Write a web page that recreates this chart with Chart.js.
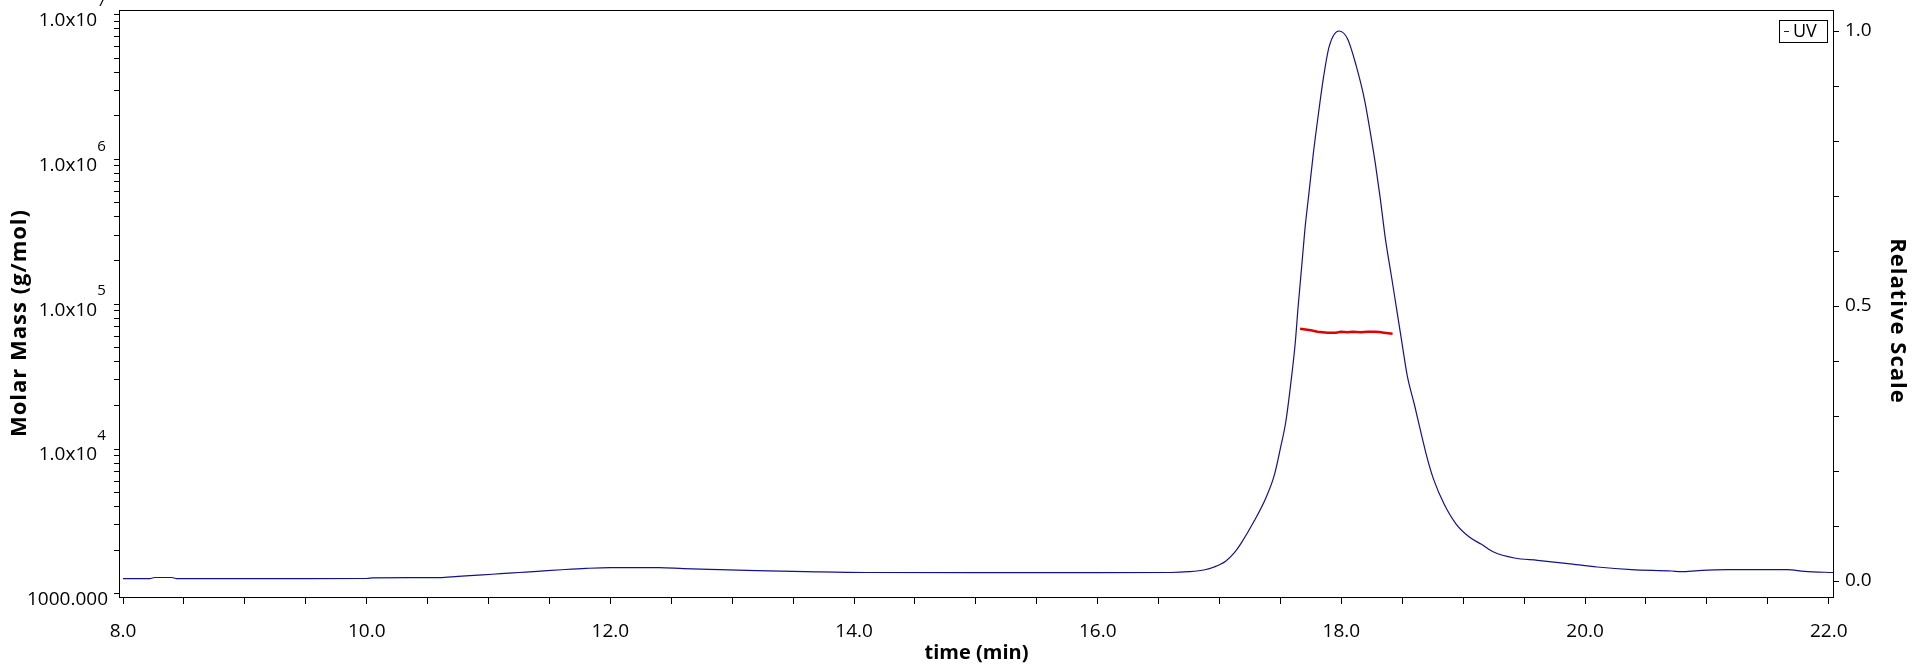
<!DOCTYPE html>
<html>
<head>
<meta charset="utf-8">
<script src="https://cdn.jsdelivr.net/npm/chart.js@4.4.1/dist/chart.umd.min.js"></script>
<style>
  html, body { margin: 0; padding: 0; background: #fff; }
</style>
</head>
<body>
<canvas id="chart" width="1920" height="672"></canvas>
<script>
// UV trace (relative scale, right axis)
const uvTime = [8.0, 8.22, 8.26, 8.4, 8.44, 9.0, 9.5, 10.0, 10.05, 10.6, 10.75, 10.95, 11.1, 11.25, 11.4,
  11.6, 11.8, 12.0, 12.4, 12.6, 12.9, 13.2, 13.6, 14.1, 15.0, 16.0, 16.6, 16.75, 16.88, 16.95, 17.05,
  17.12, 17.175, 17.284, 17.38, 17.45, 17.5, 17.544, 17.585, 17.62, 17.645, 17.673, 17.7, 17.735,
  17.77, 17.81, 17.854, 17.9, 17.98, 18.05, 18.12, 18.19, 18.24, 18.28, 18.32, 18.36, 18.41, 18.45,
  18.49, 18.54, 18.6, 18.655, 18.71, 18.76, 18.845, 18.94, 19.05, 19.15, 19.25, 19.42, 19.61, 19.86,
  20.1, 20.38, 20.71, 20.79, 20.93, 21.17, 21.66, 21.8, 22.05];
const uvValue = [0.0044, 0.0044, 0.0064, 0.0064, 0.0044, 0.0044, 0.0044, 0.0046, 0.0058, 0.0062, 0.0085,
  0.011, 0.0134, 0.0155, 0.0176, 0.0205, 0.023, 0.0244, 0.0244, 0.0225, 0.0207, 0.019, 0.0172, 0.0155,
  0.0153, 0.0153, 0.0155, 0.017, 0.0205, 0.025, 0.036, 0.051, 0.068, 0.109, 0.151, 0.193, 0.242, 0.29,
  0.36, 0.43, 0.499, 0.569, 0.638, 0.708, 0.778, 0.847, 0.917, 0.972, 1.0, 0.986, 0.938, 0.875, 0.812,
  0.757, 0.694, 0.624, 0.555, 0.499, 0.443, 0.374, 0.32, 0.268, 0.219, 0.183, 0.139, 0.104, 0.08,
  0.0667, 0.0527, 0.0418, 0.0376, 0.0316, 0.0255, 0.0207, 0.0182, 0.017, 0.019, 0.0207, 0.0207,
  0.0176, 0.0153];

// molar mass across the peak (left log axis)
const mwTime = [17.661, 17.749, 17.804, 17.886, 17.955, 17.996, 18.05, 18.09, 18.16, 18.215, 18.27,
  18.31, 18.35, 18.42];
const mwValue = [67800, 66030, 64640, 63620, 63620, 64640, 63960, 64640, 63960, 64640, 64640, 64300,
  63620, 62610];

const timeTickLabels = ["8.0", "10.0", "12.0", "14.0", "16.0", "18.0", "20.0", "22.0"];
const relTickLabels = ["0.0", "0.5", "1.0"];
const massTickValues = [1e3, 1e4, 1e5, 1e6, 1e7];
const massTickLabels = ["1000.000", "1.0x10", "1.0x10", "1.0x10", "1.0x10"];
const massTickExponents = ["", "4", "5", "6", "7"];

const timeTitle = "time (min)";
const massTitle = "Molar Mass (g/mol)";
const relTitle = "Relative Scale";

Chart.defaults.font.family = "'Open Sans', sans-serif";
Chart.defaults.color = "#000";

const tickGrid = {
  drawOnChartArea: false,
  drawTicks: true,
  tickLength: 6,
  tickColor: "#000",
  tickWidth: 1
};

const framePlugin = {
  id: "frame",
  afterDatasetsDraw(c) {
    const a = c.chartArea;
    const g = c.ctx;
    g.save();
    g.strokeStyle = "#000";
    g.lineWidth = 1;
    g.strokeRect(Math.round(a.left) - 0.5, Math.round(a.top) - 0.5,
      Math.round(a.right - a.left) + 1, Math.round(a.bottom - a.top));
    g.restore();
  }
};

const textPlugin = {
  id: "texts",
  afterDraw(c) {
    const a = c.chartArea;
    const g = c.ctx;
    g.save();
    g.fillStyle = "#000";

    // exponents of the log axis labels
    const s = c.scales.y;
    g.font = "19px 'Open Sans'";
    const fs = g.measureText("\u2007").width;
    const right = s.right - 6 - 6;
    g.font = "15px 'Open Sans'";
    g.textAlign = "left";
    g.textBaseline = "middle";
    massTickValues.forEach((v, i) => {
      if (!massTickExponents[i]) return;
      const y = s.getPixelForValue(v);
      g.fillText(massTickExponents[i], right - fs, y - 13);
    });

    // axis titles
    g.textAlign = "center";
    g.font = "bold 20px 'Open Sans'";
    g.fillText(timeTitle, (a.left + a.right) / 2, 653);

    g.font = "bold 22px 'Open Sans'";
    g.letterSpacing = "1px";
    g.save();
    g.translate(20, 323);
    g.rotate(-Math.PI / 2);
    g.fillText(massTitle, 0, 0);
    g.restore();

    g.save();
    g.translate(c.width - 23, 321);
    g.rotate(Math.PI / 2);
    g.fillText(relTitle, 0, 0);
    g.restore();
    g.letterSpacing = "0px";

    // legend box
    const ds = c.data.datasets[1];
    const bw = 48, bh = 22;
    const bx = Math.round(a.right) - 6 - bw;
    const by = Math.round(a.top) + 9;
    g.strokeStyle = "#000";
    g.lineWidth = 1;
    g.strokeRect(bx + 0.5, by + 0.5, bw, bh);
    g.strokeStyle = ds.borderColor;
    g.beginPath();
    g.moveTo(bx + 5, by + bh / 2 + 0.5);
    g.lineTo(bx + 10, by + bh / 2 + 0.5);
    g.stroke();
    g.font = "18px 'Open Sans'";
    g.textAlign = "left";
    g.fillText(ds.label, bx + 14, by + bh / 2 + 1);

    g.restore();
  }
};

const chart = new Chart(document.getElementById("chart"), {
  type: "line",
  data: {
    datasets: [
      {
        label: "Molar Mass",
        data: mwTime.map((t, i) => ({ x: t, y: mwValue[i] })),
        yAxisID: "y",
        borderColor: "#e00000",
        borderWidth: 2.5,
        pointRadius: 0,
        tension: 0,
        order: 0
      },
      {
        label: "UV",
        data: uvTime.map((t, i) => ({ x: t, y: uvValue[i] })),
        yAxisID: "y2",
        borderColor: "#12128c",
        borderWidth: 1.2,
        pointRadius: 0,
        cubicInterpolationMode: "monotone",
        order: 1
      }
    ]
  },
  options: {
    responsive: false,
    animation: false,
    devicePixelRatio: 1,
    layout: { padding: { top: 11, left: 0, right: 0, bottom: 0 } },
    plugins: {
      legend: { display: false },
      tooltip: { enabled: false }
    },
    scales: {
      x: {
        type: "linear",
        min: 7.975,
        max: 22.035,
        border: { display: false },
        grid: tickGrid,
        ticks: {
          stepSize: 0.5,
          includeBounds: false,
          autoSkip: false,
          maxRotation: 0,
          padding: 16,
          font: { size: 19 },
          callback: (v) => {
            const s = Number(v).toFixed(1);
            return timeTickLabels.includes(s) ? s : "";
          }
        },
        afterFit: (s) => { s.height = 74; s.paddingLeft = 0; s.paddingRight = 0; }
      },
      y: {
        type: "logarithmic",
        position: "left",
        min: 938,
        max: 1.056e7,
        border: { display: false },
        grid: tickGrid,
        afterBuildTicks: (s) => {
          const t = [];
          for (let e = 2; e <= 7; e++) {
            for (let k = 1; k <= 9; k++) {
              const v = k * Math.pow(10, e);
              if (v >= s.min && v <= s.max) t.push({ value: v });
            }
          }
          s.ticks = t;
        },
        ticks: {
          autoSkip: false,
          padding: 6,
          labelOffset: 6,
          font: { size: 19 },
          callback: (v) => {
            const i = massTickValues.indexOf(v);
            if (i < 0) return "";
            return massTickLabels[i] + (massTickExponents[i] ? "\u2007" : "");
          }
        },
        afterFit: (s) => { s.width = 120; s.paddingTop = 0; s.paddingBottom = 0; }
      },
      y2: {
        type: "linear",
        position: "right",
        min: -0.0309,
        max: 1.0364,
        border: { display: false },
        grid: tickGrid,
        ticks: {
          stepSize: 0.1,
          includeBounds: false,
          autoSkip: false,
          padding: 6,
          font: { size: 19 },
          callback: (v) => {
            const s = Number(v).toFixed(1);
            return relTickLabels.includes(s) ? s : "";
          }
        },
        afterFit: (s) => { s.width = 87; s.paddingTop = 0; s.paddingBottom = 0; }
      }
    }
  },
  plugins: [framePlugin, textPlugin]
});
</script>
</body>
</html>
